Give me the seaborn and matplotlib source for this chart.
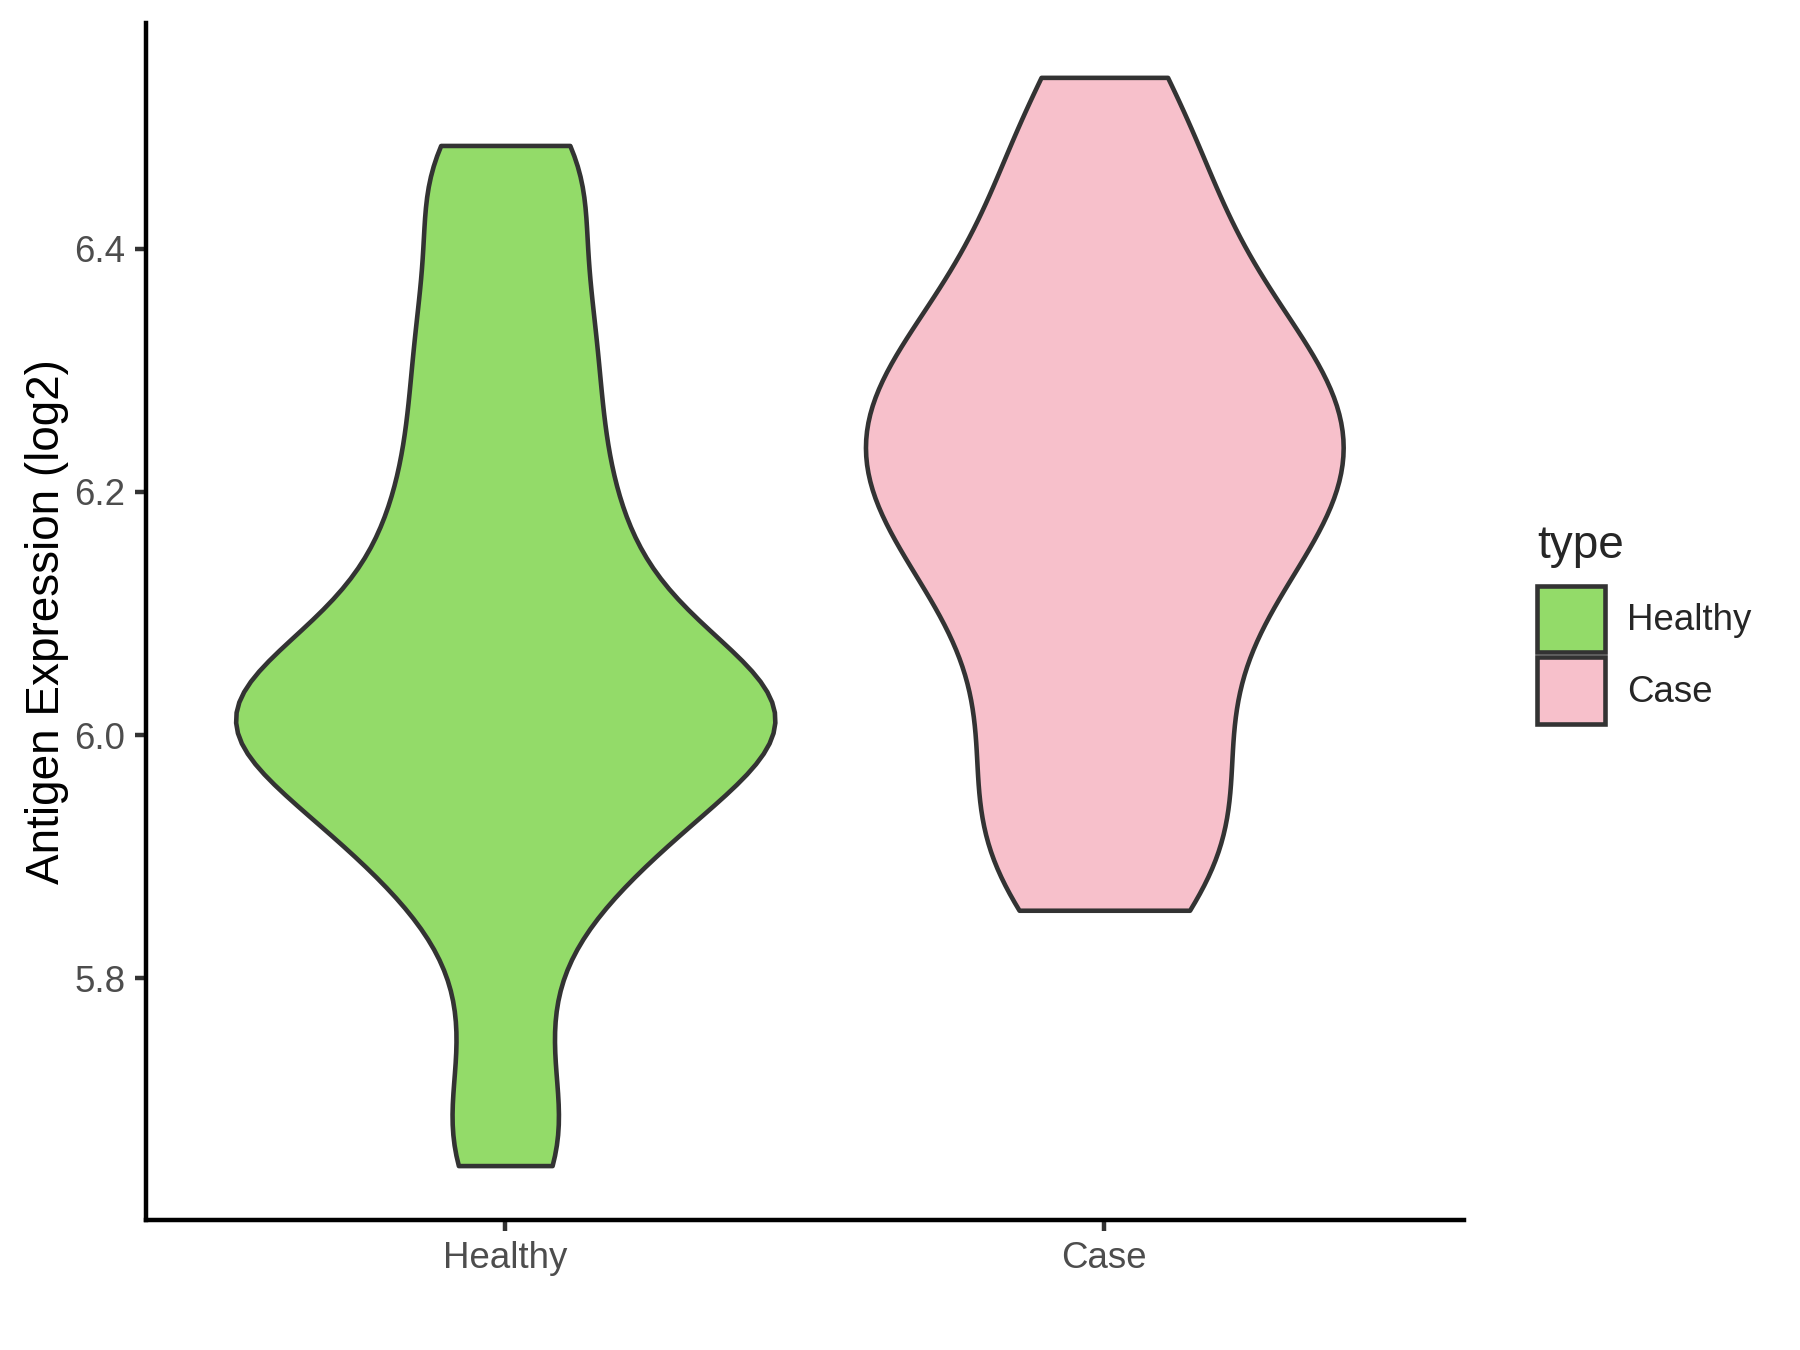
import numpy as np
import pandas as pd
import matplotlib
matplotlib.use("Agg")
import matplotlib.pyplot as plt
from matplotlib.patches import Patch
import seaborn as sns

# ---- data ----
categories = ["Healthy", "Case"]
healthy_values = [5.646, 5.68, 5.76, 5.84, 5.88, 5.91, 5.92, 5.94, 5.96, 5.98,
                  5.99, 6.00, 6.01, 6.02, 6.02, 6.03, 6.04, 6.05, 6.07, 6.09,
                  6.115, 6.14, 6.165, 6.195, 6.23, 6.265, 6.30, 6.34, 6.37,
                  6.425, 6.47, 6.485]
case_values = [5.856, 5.89, 5.93, 5.97, 6.01, 6.06, 6.10, 6.13, 6.16, 6.18,
               6.20, 6.22, 6.24, 6.26, 6.28, 6.30, 6.32, 6.35, 6.39, 6.43,
               6.48, 6.541]
fill_colors = ["#93DB69", "#F7C0CB"]
y_ticks = [5.8, 6.0, 6.2, 6.4]
y_tick_labels = ["5.8", "6.0", "6.2", "6.4"]

# ---- style ----
sns.set_theme(style="ticks")
plt.rcParams["font.family"] = ["Liberation Sans", "DejaVu Sans"]

df = pd.DataFrame({
    "type": ["Healthy"] * len(healthy_values) + ["Case"] * len(case_values),
    "value": healthy_values + case_values,
})
palette = dict(zip(categories, fill_colors))
bandwidth = {"Healthy": 0.058, "Case": 0.07}
widths = {"Healthy": 0.9, "Case": 0.9 * 0.886}

fig = plt.figure(figsize=(6, 4.5), dpi=300)
ax = fig.add_axes([0.081, 0.0963, 0.7322, 0.8867])

for t in categories:
    sub = df[df["type"] == t]
    sns.violinplot(data=sub, x="type", y="value", hue="type",
                   order=categories, hue_order=categories, palette=palette,
                   width=widths[t], density_norm="width", cut=0,
                   bw_method=bandwidth[t] / sub["value"].std(),
                   inner=None, linewidth=1.1, linecolor="#333333",
                   saturation=1, legend=False, ax=ax)

ymin = min(df["value"]); ymax = max(df["value"])
pad = (ymax - ymin) * 0.05
ax.set_xlim(-0.6, 1.6)
ax.set_ylim(ymin - pad, ymax + pad)
ax.set_yticks(y_ticks)
ax.set_yticklabels(y_tick_labels)
ax.set_xlabel("")
ax.set_ylabel("Antigen Expression (log2)", fontsize=11, color="black", labelpad=1.2)

for s in ["top", "right"]:
    ax.spines[s].set_visible(False)
for s in ["left", "bottom"]:
    ax.spines[s].set_linewidth(1.07)
    ax.spines[s].set_color("black")
ax.tick_params(axis="both", length=2.75, width=1.07, color="#333333",
               labelcolor="#4D4D4D", labelsize=8.8, pad=2.2)

handles = [Patch(facecolor=palette[c], edgecolor="#333333", linewidth=1.1, label=c)
           for c in categories]
leg = fig.legend(handles=handles, title="type", loc="center left",
                 bbox_to_anchor=(0.846, 0.538), frameon=False, fontsize=8.8,
                 title_fontsize=11, handlelength=1.85, handleheight=2.4,
                 labelspacing=0.15, handletextpad=0.6, borderaxespad=0)
leg._legend_box.align = "left"
leg._legend_box.sep = 4.3

fig.savefig("out.png", dpi=300)
